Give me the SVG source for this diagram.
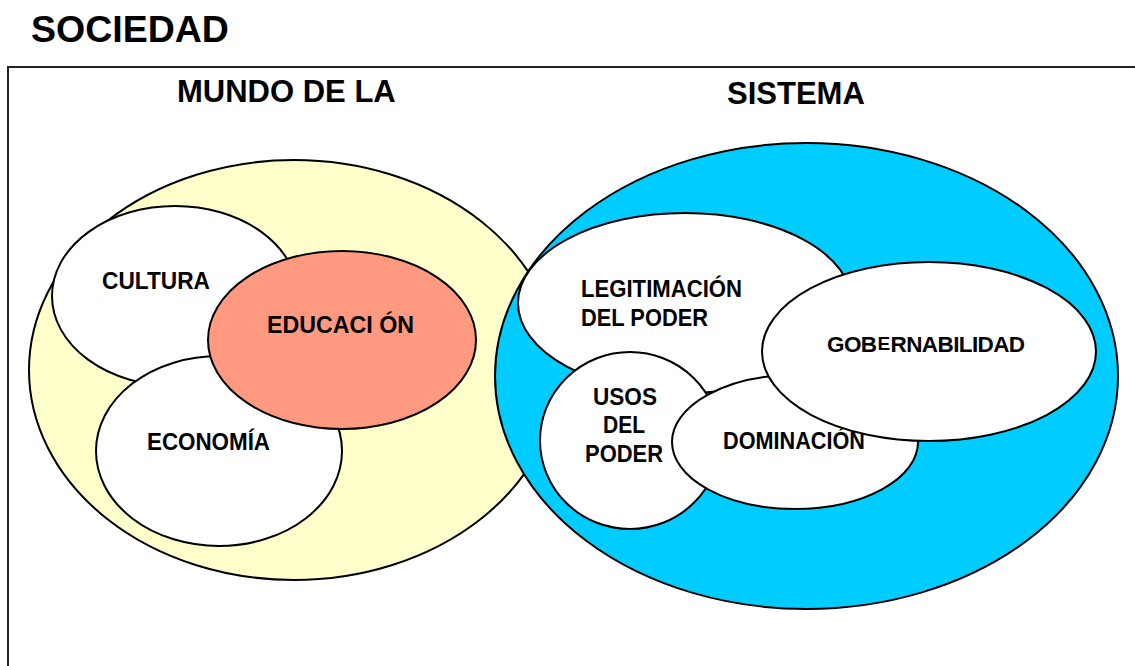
<svg xmlns="http://www.w3.org/2000/svg" width="1135" height="666" viewBox="0 0 1135 666">
<style>
.t{font-family:"Liberation Sans",Arial,sans-serif;font-weight:bold;fill:#000}
.lbl{font-size:23px}
.e{stroke:#000;stroke-width:2}
.w{fill:#fff}
</style>
<rect width="1135" height="666" fill="#fff"/>
<text class="t" x="31" y="42" font-size="37.5">SOCIEDAD</text>
<rect x="8" y="67" width="1200" height="700" fill="none" stroke="#222" stroke-width="2"/>
<text class="t" x="177" y="102" font-size="31">MUNDO DE LA</text>
<text class="t" x="727" y="104" font-size="31">SISTEMA</text>
<g id="mundo">
<ellipse class="e" cx="294" cy="370" rx="265" ry="210" fill="#FFFFCC"/>
</g>
<g id="cultura">
<ellipse class="e w" cx="175" cy="296" rx="123" ry="90"/>
<text class="t lbl" x="102" y="289" textLength="108" lengthAdjust="spacingAndGlyphs">CULTURA</text>
</g>
<g id="economia">
<ellipse class="e w" cx="219" cy="451" rx="123" ry="95"/>
<text class="t lbl" x="147" y="450" textLength="123" lengthAdjust="spacingAndGlyphs">ECONOMÍA</text>
</g>
<g id="educacion">
<ellipse class="e" cx="342" cy="340" rx="134" ry="89" fill="#FF9980"/>
<text class="t lbl" x="267" y="333" textLength="147" lengthAdjust="spacingAndGlyphs">EDUCACI ÓN</text>
</g>
<g id="sistema">
<ellipse class="e" cx="806.5" cy="376" rx="311.5" ry="233" fill="#00CCFF"/>
</g>
<g id="legitimacion">
<ellipse class="e w" cx="685" cy="303" rx="167" ry="90"/>
<text class="t lbl" x="581" y="297" textLength="161" lengthAdjust="spacingAndGlyphs">LEGITIMACIÓN</text>
<text class="t lbl" x="581" y="326" textLength="127" lengthAdjust="spacingAndGlyphs">DEL PODER</text>
</g>
<g id="usos">
<ellipse class="e w" cx="630" cy="440.5" rx="90" ry="88.5"/>
<text class="t lbl" x="593" y="405" textLength="64" lengthAdjust="spacingAndGlyphs">USOS</text>
<text class="t lbl" x="603" y="433" textLength="42" lengthAdjust="spacingAndGlyphs">DEL</text>
<text class="t lbl" x="585" y="462" textLength="78" lengthAdjust="spacingAndGlyphs">PODER</text>
</g>
<g id="dominacion">
<ellipse class="e w" cx="795" cy="442" rx="123" ry="67"/>
<text class="t lbl" x="723" y="449" textLength="142" lengthAdjust="spacingAndGlyphs">DOMINACIÓN</text>
</g>
<g id="gobernabilidad">
<ellipse class="e w" cx="929" cy="351.5" rx="167" ry="89.5"/>
<text class="t" x="827" y="352" font-size="22.5" letter-spacing="-0.6">GOB<tspan font-size="19" dx="1" dy="-2">E</tspan><tspan dx="1" dy="2">RNABILIDAD</tspan></text>
</g>
<g id="connectors"></g>
</svg>
